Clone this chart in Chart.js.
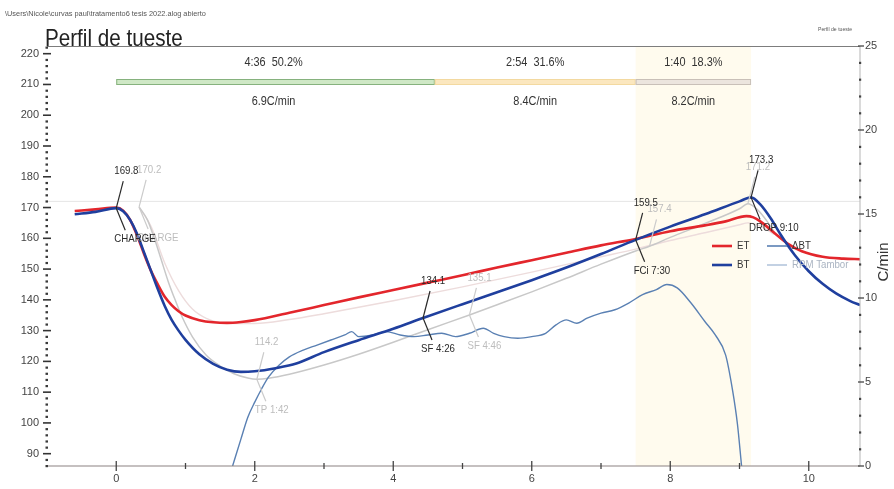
<!DOCTYPE html>
<html>
<head>
<meta charset="utf-8">
<script src="https://cdn.jsdelivr.net/npm/chart.js@4.4.0/dist/chart.umd.min.js"></script>
<style>
  html, body { margin: 0; padding: 0; background: #ffffff; }
  #wrap { width: 894px; height: 489px; position: relative; }
</style>
</head>
<body>
<div id="wrap"><canvas id="roast" width="894" height="489"></canvas></div>
<script>
// ---- roast data (time in minutes from CHARGE) ----
const timeET = [-0.6, -0.3, 0, 0.1, 0.2, 0.3, 0.4, 0.5, 0.6, 0.7, 0.8, 0.9, 1.0, 1.2, 1.4, 1.6, 1.8, 2.0, 2.5, 3.0, 3.5, 4.0, 4.5, 5.0, 5.5, 6.0, 6.5, 7.0, 7.5, 8.0, 8.5, 8.8, 9.1, 9.2, 9.3, 9.5, 9.7, 9.9, 10.2, 10.5, 10.74];
const et     = [168.9, 169.4, 170.0, 169.0, 166.0, 161.0, 155.0, 149.5, 145.0, 141.0, 138.3, 136.3, 134.9, 133.4, 132.7, 132.5, 132.8, 133.4, 135.8, 138.3, 140.8, 143.2, 145.6, 148.0, 150.5, 152.9, 155.3, 157.7, 159.8, 162.3, 164.2, 165.5, 167.2, 166.8, 165.5, 161.8, 158.2, 155.8, 154.0, 153.4, 153.2];

const timeBT = [-0.6, -0.3, 0, 0.1, 0.2, 0.3, 0.4, 0.5, 0.6, 0.7, 0.8, 0.9, 1.0, 1.2, 1.4, 1.6, 1.8, 2.0, 2.3, 2.6, 3.0, 3.5, 4.0, 4.43, 5.0, 5.5, 6.0, 6.5, 7.0, 7.5, 8.0, 8.5, 9.0, 9.1667, 9.3, 9.45, 9.6, 9.8, 10.0, 10.2, 10.4, 10.6, 10.74];
const bt     = [167.8, 168.6, 169.8, 168.8, 166.0, 161.5, 155.5, 149.5, 143.5, 138.0, 133.5, 130.0, 127.0, 122.3, 119.2, 117.3, 116.6, 116.8, 117.8, 119.3, 123.0, 126.9, 130.6, 134.1, 138.6, 142.5, 146.4, 150.5, 154.9, 159.5, 163.8, 167.8, 172.0, 173.3, 171.0, 166.5, 161.0, 154.5, 149.3, 145.2, 142.0, 139.6, 138.3];

const timeRoR = [1.68, 1.8, 1.9, 2.0, 2.1, 2.2, 2.35, 2.5, 2.7, 2.9, 3.1, 3.3, 3.4, 3.5, 3.7, 3.9, 4.1, 4.3, 4.5, 4.7, 4.9, 5.1, 5.3, 5.45, 5.6, 5.8, 6.0, 6.2, 6.35, 6.5, 6.65, 6.8, 7.0, 7.2, 7.4, 7.6, 7.8, 7.95, 8.1, 8.3, 8.5, 8.65, 8.8, 8.9, 8.97, 9.03];
const rorBT   = [0, 1.6, 2.9, 3.8, 4.6, 5.3, 6.0, 6.5, 6.9, 7.2, 7.5, 7.8, 8.0, 7.7, 7.8, 8.0, 7.8, 7.7, 7.8, 7.9, 7.7, 7.9, 8.2, 7.9, 7.7, 7.6, 7.7, 7.9, 8.4, 8.7, 8.5, 8.8, 9.1, 9.3, 9.7, 10.2, 10.5, 10.8, 10.6, 9.7, 8.6, 7.8, 6.6, 4.5, 2.5, 0];

// background (reference) profile
const timeBgBT = [0.33, 0.45, 0.55, 0.65, 0.75, 0.85, 0.95, 1.1, 1.3, 1.5, 1.7, 1.9, 2.03, 2.2, 2.5, 3.0, 3.5, 4.0, 4.5, 5.1, 5.5, 6.0, 6.5, 7.0, 7.5, 7.7, 8.0, 8.5, 9.0, 9.12, 9.25, 9.4, 9.5];
const bgBT     = [170.2, 166.0, 160.0, 153.0, 146.0, 140.0, 134.5, 128.0, 122.0, 118.5, 116.0, 114.6, 114.2, 114.5, 115.8, 118.8, 122.3, 126.2, 130.3, 135.1, 138.4, 142.6, 147.0, 151.6, 155.9, 157.4, 160.3, 164.8, 169.6, 171.2, 169.5, 165.5, 162.0];
const timeBgET = [0.33, 0.5, 0.7, 0.9, 1.1, 1.3, 1.6, 2.0, 2.5, 3.0, 4.0, 5.0, 6.0, 7.0, 7.5, 8.0, 8.5, 9.0, 9.12, 9.3, 9.5];
const bgET     = [170.0, 164.0, 152.0, 143.0, 137.0, 134.0, 132.4, 132.3, 133.6, 135.5, 139.7, 144.2, 149.0, 154.0, 156.5, 159.3, 161.8, 164.4, 165.0, 164.0, 161.3];

// axis ticks
const xTicks = [0, 2, 4, 6, 8, 10];
const tempTicks = [90, 100, 110, 120, 130, 140, 150, 160, 170, 180, 190, 200, 210, 220];
const rorTicks = [0, 5, 10, 15, 20, 25];

// roast phases
const phaseBounds = [0, 4.6, 7.5, 9.1667];
const phaseTimes = ['4:36  50.2%', '2:54  31.6%', '1:40  18.3%'];
const phaseRates = ['6.9C/min', '8.4C/min', '8.2C/min'];

// events: [time, temperature, value text, name text]
const events = [
  [0, 169.8, '169.8', 'CHARGE'],
  [4.43, 134.1, '134.1', 'SF 4:26'],
  [7.5, 159.5, '159.5', 'FCi 7:30'],
  [9.1667, 173.3, '173.3', 'DROP 9:10']
];
const bgEvents = [
  [0.33, 170.2, '170.2', 'CHARGE'],
  [2.03, 114.2, '114.2', 'TP 1:42'],
  [5.1, 135.1, '135.1', 'SF 4:46'],
  [7.7, 157.4, '157.4', ''],
  [9.12, 171.2, '171.2', '']
];
const refTemp = 172;

const FONT = '"Liberation Sans", Arial, sans-serif';

function pts(ts, vs) { return ts.map((t, i) => ({ x: t, y: vs[i] })); }

// text squeezed horizontally, like a condensed face
function narrowText(ctx, txt, x, y, sx) {
  ctx.save();
  ctx.translate(x, y);
  ctx.scale(sx, 1);
  ctx.fillText(txt, 0, 0);
  ctx.restore();
}

const roastDecor = {
  id: 'roastDecor',
  beforeDatasetsDraw(chart) {
    const { ctx, chartArea: a, scales } = chart;
    const X = v => scales.x.getPixelForValue(v);
    ctx.save();
    // development phase shading
    ctx.fillStyle = 'rgba(255, 248, 226, 0.6)';
    ctx.fillRect(X(phaseBounds[2]), a.top, X(phaseBounds[3]) - X(phaseBounds[2]), a.bottom - a.top);
    // faint reference line
    const yr = scales.y.getPixelForValue(refTemp);
    ctx.strokeStyle = 'rgba(190,190,190,0.4)';
    ctx.lineWidth = 1;
    ctx.beginPath(); ctx.moveTo(a.left, yr); ctx.lineTo(a.right, yr); ctx.stroke();
    ctx.restore();
  },
  afterDatasetsDraw(chart) {
    const { ctx, chartArea: a, scales } = chart;
    const X = v => scales.x.getPixelForValue(v);
    const Y = v => scales.y.getPixelForValue(v);
    const R = v => scales.y2.getPixelForValue(v);
    ctx.save();

    // frame
    ctx.strokeStyle = '#7d7d7d'; ctx.lineWidth = 1.2;
    ctx.beginPath(); ctx.moveTo(a.left, a.top + 0.5); ctx.lineTo(a.right, a.top + 0.5); ctx.stroke();
    ctx.strokeStyle = '#8c8282'; ctx.lineWidth = 1.2;
    ctx.beginPath(); ctx.moveTo(a.left, a.bottom); ctx.lineTo(a.right, a.bottom); ctx.stroke();
    ctx.strokeStyle = '#b5b5b5'; ctx.lineWidth = 1;
    ctx.beginPath(); ctx.moveTo(a.right, a.top); ctx.lineTo(a.right, a.bottom); ctx.stroke();

    // left spine: dotted minor ticks + major dashes
    ctx.fillStyle = '#3a3a3a';
    for (let v = 86; v <= 222; v += 2) {
      if (v % 10 === 0) continue;
      ctx.fillRect(a.left - 1.5, Y(v) - 1, 2.5, 2.2);
    }
    ctx.strokeStyle = '#333'; ctx.lineWidth = 1.6;
    tempTicks.forEach(v => {
      ctx.beginPath(); ctx.moveTo(a.left - 4, Y(v)); ctx.lineTo(a.left + 4, Y(v)); ctx.stroke();
    });

    // right spine ticks
    ctx.fillStyle = '#444';
    for (let v = 1; v < 25; v++) {
      if (v % 5 === 0) continue;
      ctx.fillRect(a.right - 1, R(v) - 1, 2.2, 2.2);
    }
    ctx.strokeStyle = '#444'; ctx.lineWidth = 1.3;
    rorTicks.forEach(v => {
      ctx.beginPath(); ctx.moveTo(a.right - 2, R(v)); ctx.lineTo(a.right + 4, R(v)); ctx.stroke();
    });

    // bottom ticks
    ctx.strokeStyle = '#444'; ctx.lineWidth = 1.3;
    for (let v = 0; v <= 10; v++) {
      const h = v % 2 === 0 ? 5 : 3;
      ctx.beginPath(); ctx.moveTo(X(v), a.bottom - h); ctx.lineTo(X(v), a.bottom + h); ctx.stroke();
    }

    // phase bars
    const barFill = ['#cfe8c6', '#fbe7bf', '#ece5de'];
    const barEdge = ['#86b27e', '#f3d9a0', '#c9c0b8'];
    ctx.font = '13px ' + FONT;
    ctx.textAlign = 'center'; ctx.textBaseline = 'middle';
    for (let i = 0; i < 3; i++) {
      const x0 = X(phaseBounds[i]), x1 = X(phaseBounds[i + 1]);
      ctx.fillStyle = barFill[i];
      ctx.fillRect(x0, 79, x1 - x0, 6);
      ctx.strokeStyle = barEdge[i]; ctx.lineWidth = 1;
      ctx.strokeRect(x0 + 0.5, 79.5, x1 - x0 - 1, 5);
      ctx.fillStyle = '#333';
      const cx = i === 0 ? (x0 + x1) / 2 - 2 : (x0 + x1) / 2;
      narrowText(ctx, phaseTimes[i], cx, 62, 0.84);
      narrowText(ctx, phaseRates[i], cx, 101, 0.84);
    }

    // event annotations
    function annotate(list, color, lineColor) {
      ctx.font = '11px ' + FONT;
      ctx.textAlign = 'left'; ctx.textBaseline = 'middle';
      list.forEach(([t, v, valTxt, nameTxt]) => {
        const px = X(t), py = Y(v);
        ctx.strokeStyle = lineColor; ctx.lineWidth = 1.2;
        ctx.beginPath(); ctx.moveTo(px, py); ctx.lineTo(px + 7, py - 27); ctx.stroke();
        ctx.fillStyle = color;
        narrowText(ctx, valTxt, px - 2, py - 37, 0.88);
        if (nameTxt) {
          ctx.beginPath(); ctx.moveTo(px, py); ctx.lineTo(px + 9, py + 22); ctx.stroke();
          narrowText(ctx, nameTxt, px - 2, py + 31, 0.88);
        }
      });
    }
    annotate(bgEvents, '#bdbdbd', '#cbcbcb');
    annotate(events, '#2a2a2a', '#2a2a2a');

    // legend
    ctx.font = '11px ' + FONT;
    ctx.textAlign = 'left'; ctx.textBaseline = 'middle';
    const ds = chart.data.datasets;
    const slots = [[0, 712, 246], [1, 712, 265], [2, 767, 246], [3, 767, 265]];
    slots.forEach(([k, lx, ly]) => {
      const d = ds[k];
      ctx.strokeStyle = d.borderColor; ctx.lineWidth = k < 2 ? 2.6 : 1.6;
      ctx.beginPath(); ctx.moveTo(lx, ly); ctx.lineTo(lx + 20, ly); ctx.stroke();
      ctx.fillStyle = k === 3 ? '#aab4c2' : '#333';
      narrowText(ctx, d.label, lx + 25, ly, 0.88);
    });

    // titles and captions
    ctx.textAlign = 'left'; ctx.textBaseline = 'alphabetic';
    ctx.fillStyle = '#555';
    ctx.font = '8px ' + FONT;
    narrowText(ctx, '\\Users\\Nicole\\curvas paul\\tratamento6 tesis 2022.alog abierto', 5, 16, 0.92);
    ctx.font = '6px ' + FONT;
    narrowText(ctx, 'Perfil de tueste', 818, 31, 0.85);
    ctx.fillStyle = '#222';
    ctx.font = '24px ' + FONT;
    narrowText(ctx, 'Perfil de tueste', 45, 46, 0.86);

    // right axis title
    ctx.save();
    ctx.translate(884, 262);
    ctx.rotate(-Math.PI / 2);
    ctx.textAlign = 'center'; ctx.textBaseline = 'middle';
    ctx.fillStyle = '#333';
    ctx.font = '15px ' + FONT;
    ctx.fillText('C/min', 0, 0);
    ctx.restore();

    ctx.restore();
  }
};

new Chart(document.getElementById('roast'), {
  type: 'line',
  data: {
    datasets: [
      { label: 'ET', data: pts(timeET, et), borderColor: '#e3262c', borderWidth: 2.6, yAxisID: 'y', order: 1 },
      { label: 'BT', data: pts(timeBT, bt), borderColor: '#1f3f9e', borderWidth: 2.6, yAxisID: 'y', order: 0 },
      { label: 'ΔBT', data: pts(timeRoR, rorBT), borderColor: '#5a80b3', borderWidth: 1.4, yAxisID: 'y2', order: 2 },
      { label: 'RPM Tambor', data: [], borderColor: '#b4c6dc', borderWidth: 1.4, yAxisID: 'y2', order: 3 },
      { label: 'ET fondo', data: pts(timeBgET, bgET), borderColor: '#eddcdc', borderWidth: 1.4, yAxisID: 'y', order: 5 },
      { label: 'BT fondo', data: pts(timeBgBT, bgBT), borderColor: '#c8c8c8', borderWidth: 1.5, yAxisID: 'y', order: 4 }
    ]
  },
  options: {
    responsive: false,
    animation: false,
    elements: { point: { radius: 0 }, line: { cubicInterpolationMode: 'monotone', fill: false } },
    layout: { padding: { top: 46, left: 0, right: 0, bottom: 0 } },
    plugins: { legend: { display: false }, tooltip: { enabled: false }, title: { display: false } },
    scales: {
      x: {
        type: 'linear', position: 'bottom', min: -1.0, max: 10.74,
        afterBuildTicks: s => { s.ticks = xTicks.map(v => ({ value: v })); },
        afterFit: s => { s.height = 23; },
        grid: { display: false, drawTicks: false }, border: { display: false },
        ticks: { color: '#444', font: { family: FONT, size: 11 }, padding: 6, maxRotation: 0 }
      },
      y: {
        type: 'linear', position: 'left', min: 86, max: 222.5,
        afterBuildTicks: s => { s.ticks = tempTicks.map(v => ({ value: v })); },
        afterFit: s => { s.width = 47; },
        grid: { display: false, drawTicks: false }, border: { display: false },
        ticks: { color: '#444', font: { family: FONT, size: 11 }, padding: 8 }
      },
      y2: {
        type: 'linear', position: 'right', min: 0, max: 25,
        afterBuildTicks: s => { s.ticks = rorTicks.map(v => ({ value: v })); },
        afterFit: s => { s.width = 34; },
        grid: { display: false, drawTicks: false }, border: { display: false },
        ticks: { color: '#444', font: { family: FONT, size: 11 }, padding: 5 }
      }
    }
  },
  plugins: [roastDecor]
});
</script>
</body>
</html>
